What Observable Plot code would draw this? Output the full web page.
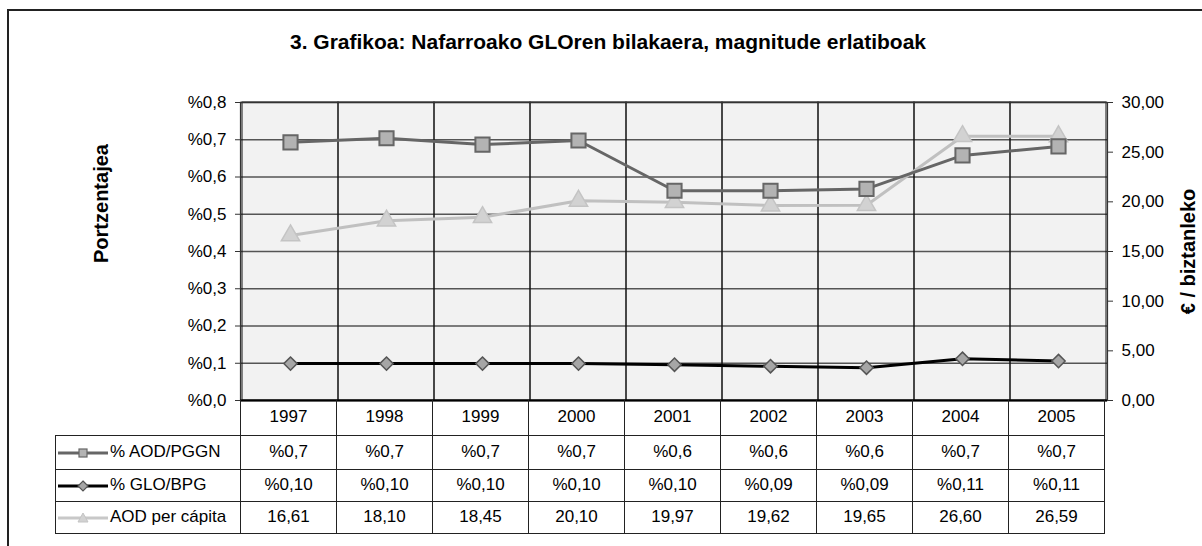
<!DOCTYPE html>
<html>
<head>
<meta charset="utf-8">
<script src="https://cdn.jsdelivr.net/npm/d3@7"></script>
<script src="https://cdn.jsdelivr.net/npm/@observablehq/plot@0.6"></script>
<style>
  html, body { margin: 0; padding: 0; background: #fff; overflow: hidden; }
  body { width: 1202px; height: 546px; position: relative; font-family: "Liberation Sans", Arial, sans-serif; color: #000; }
  #frame { position: absolute; left: 7px; top: 9px; width: 1400px; height: 800px; border: 2px solid #222; box-sizing: border-box; }
  #title { position: absolute; left: 0; width: 1216px; top: 30px; text-align: center; font-weight: bold; font-size: 21px; }
  #chart { position: absolute; left: 0; top: 0; }
  table { position: absolute; border-collapse: collapse; table-layout: fixed; font-size: 17px; }
  td { border: 1px solid #222; padding: 0; text-align: center; white-space: nowrap; overflow: hidden; }
  td.lab { text-align: left; }
  td.lab svg { vertical-align: middle; margin-left: 2px; margin-right: 2px; }
  tr.head td { border-top: none; }
  tr.head td.blank { border-left: none; border-bottom: none; border-top: none; }
</style>
</head>
<body>
<div id="frame"></div>
<div id="title">3. Grafikoa: Nafarroako GLOren bilakaera, magnitude erlatiboak</div>
<div id="chart"></div>
<script>
// ---- data ----
const years = ["1997", "1998", "1999", "2000", "2001", "2002", "2003", "2004", "2005"];
const aodPggn = [0.693, 0.704, 0.687, 0.698, 0.563, 0.563, 0.568, 0.658, 0.682];   // % AOD/PGGN (left axis)
const gloBpg = [0.099, 0.099, 0.099, 0.099, 0.096, 0.092, 0.088, 0.112, 0.106];    // % GLO/BPG (left axis)
const aodPerCapita = [16.61, 18.10, 18.45, 20.10, 19.97, 19.62, 19.65, 26.60, 26.59]; // € / biztanleko (right axis)
const leftTicks = [0, 0.1, 0.2, 0.3, 0.4, 0.5, 0.6, 0.7, 0.8];
const rightTicks = [0, 5, 10, 15, 20, 25, 30];
const seriesNames = ["% AOD/PGGN", "% GLO/BPG", "AOD per cápita"];

const leftMax = 0.8, rightMax = 30;
const toLeft = v => v / rightMax * leftMax;
const comma = s => s.replace(".", ",");

const rows = years.map((yr, i) => ({
  year: yr,
  aod: aodPggn[i],
  glo: gloBpg[i],
  cap: toLeft(aodPerCapita[i])
}));

const font = "Liberation Sans, Arial, sans-serif";

const plot = Plot.plot({
  width: 1202,
  height: 546,
  marginLeft: 240,
  marginRight: 95,
  marginTop: 102,
  marginBottom: 146,
  style: { fontFamily: font, fontSize: "17px", color: "#000", background: "transparent", overflow: "visible" },
  x: { type: "band", domain: years, padding: 0, axis: null },
  y: { domain: [0, leftMax] },
  marks: [
    Plot.frame({ fill: "#f2f2f2", stroke: null }),
    Plot.ruleY(leftTicks, { stroke: "#555", strokeWidth: 1.3 }),
    Plot.barY(years, { x: d => d, y1: 0, y2: leftMax, fill: "none", stroke: "#111", strokeWidth: 1 }),
    Plot.frame({ stroke: "#333", strokeWidth: 1.2 }),
    Plot.ruleY([0], { stroke: "#000", strokeWidth: 2 }),
    // AOD per capita (right axis, mapped)
    Plot.line(rows, { x: "year", y: "cap", stroke: "#c0c0c0", strokeWidth: 3 }),
    Plot.dot(rows, { x: "year", y: "cap", symbol: "triangle", r: 6.8, fill: "#d2d2d2", stroke: "#c4c4c4", strokeWidth: 1.5 }),
    // AOD/PGGN
    Plot.line(rows, { x: "year", y: "aod", stroke: "#666", strokeWidth: 3 }),
    Plot.dot(rows, { x: "year", y: "aod", symbol: "square", r: 8, fill: "#b3b3b3", stroke: "#666", strokeWidth: 2 }),
    // GLO/BPG
    Plot.line(rows, { x: "year", y: "glo", stroke: "#000", strokeWidth: 3 }),
    Plot.dot(rows, { x: "year", y: "glo", symbol: "diamond2", r: 6, fill: "#a6a6a6", stroke: "#555", strokeWidth: 1.5 }),
    // axes
    Plot.axisY(leftTicks, { anchor: "left", tickSize: 5, tickPadding: 9, fontSize: 17, label: null,
      tickFormat: d => "%" + comma(d.toFixed(1)), stroke: "#333" }),
    Plot.axisY(rightTicks.map(toLeft), { anchor: "right", tickSize: 5, tickPadding: 9, fontSize: 17, label: null,
      tickFormat: d => comma((d / leftMax * rightMax).toFixed(2)), stroke: "#333" }),
    // axis titles
    Plot.text(["Portzentajea"], { frameAnchor: "left", textAnchor: "middle", dx: -139, dy: -48, rotate: -90, fontWeight: "bold", fontSize: 20, text: d => d }),
    Plot.text(["€ / biztanleko"], { frameAnchor: "right", textAnchor: "middle", dx: 81, rotate: -90, fontWeight: "bold", fontSize: 20, text: d => d })
  ]
});
document.getElementById("chart").appendChild(plot);

// ---- data table, columns aligned to Plot's x scale ----
const xs = plot.scale("x");
const bw = xs.bandwidth;
const x0 = xs.range[0];
const firstW = x0 - 55;

const table = document.createElement("table");
table.style.left = "55px";
table.style.top = "400px";
table.style.width = (firstW + bw * years.length) + "px";

const colgroup = document.createElement("colgroup");
const c0 = document.createElement("col"); c0.style.width = firstW + "px"; colgroup.appendChild(c0);
years.forEach(() => { const c = document.createElement("col"); c.style.width = bw + "px"; colgroup.appendChild(c); });
table.appendChild(colgroup);

function sample(kind) {
  const ns = "http://www.w3.org/2000/svg";
  const svg = document.createElementNS(ns, "svg");
  svg.setAttribute("width", 50); svg.setAttribute("height", 14);
  const line = document.createElementNS(ns, "line");
  line.setAttribute("x1", 0); line.setAttribute("x2", 50); line.setAttribute("y1", 7); line.setAttribute("y2", 7);
  line.setAttribute("stroke-width", 3);
  let m;
  if (kind === 0) {
    line.setAttribute("stroke", "#666");
    m = document.createElementNS(ns, "rect");
    m.setAttribute("x", 21); m.setAttribute("y", 3); m.setAttribute("width", 8); m.setAttribute("height", 8);
    m.setAttribute("fill", "#b3b3b3"); m.setAttribute("stroke", "#666"); m.setAttribute("stroke-width", 1.2);
  } else if (kind === 1) {
    line.setAttribute("stroke", "#000");
    m = document.createElementNS(ns, "path");
    m.setAttribute("d", "M25,2L30,7L25,12L20,7Z");
    m.setAttribute("fill", "#a6a6a6"); m.setAttribute("stroke", "#555"); m.setAttribute("stroke-width", 1.2);
  } else {
    line.setAttribute("stroke", "#c8c8c8");
    m = document.createElementNS(ns, "path");
    m.setAttribute("d", "M25,2L30,11L20,11Z");
    m.setAttribute("fill", "#d2d2d2"); m.setAttribute("stroke", "#c4c4c4"); m.setAttribute("stroke-width", 1);
  }
  svg.appendChild(line); svg.appendChild(m);
  return svg;
}

// header row
const head = document.createElement("tr");
head.className = "head";
head.style.height = "35px";
const blank = document.createElement("td"); blank.className = "blank"; head.appendChild(blank);
years.forEach(y => { const td = document.createElement("td"); td.textContent = y; head.appendChild(td); });
table.appendChild(head);

const tableValues = [
  aodPggn.map(v => "%" + comma(v.toFixed(1))),
  gloBpg.map(v => "%" + comma(v.toFixed(2))),
  aodPerCapita.map(v => comma(v.toFixed(2)))
];
tableValues.forEach((vals, k) => {
  const tr = document.createElement("tr");
  tr.style.height = (k === 0 ? 34 : 32) + "px";
  const lab = document.createElement("td"); lab.className = "lab";
  lab.appendChild(sample(k));
  lab.appendChild(document.createTextNode(seriesNames[k]));
  tr.appendChild(lab);
  vals.forEach(v => { const td = document.createElement("td"); td.textContent = v; tr.appendChild(td); });
  table.appendChild(tr);
});
document.body.appendChild(table);
</script>
</body>
</html>
